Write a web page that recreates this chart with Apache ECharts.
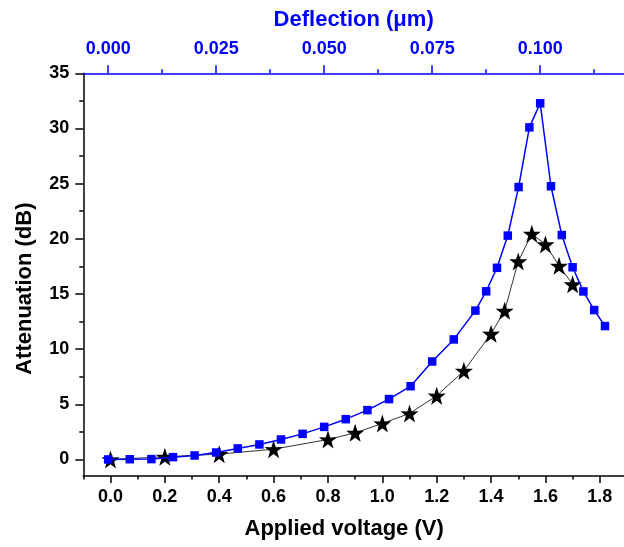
<!DOCTYPE html>
<html>
<head>
<meta charset="utf-8">
<script src="https://cdn.jsdelivr.net/npm/echarts@6/dist/echarts.min.js"></script>
<style>html,body{margin:0;padding:0;background:#fff}#c{width:624px;height:547px}</style>
</head>
<body>
<div id="c"></div>
<script>
// Blue squares: attenuation vs deflection (top axis)
const deflection = [0, 0.005, 0.01, 0.015, 0.02, 0.025, 0.03, 0.035, 0.04, 0.045, 0.05, 0.055, 0.06, 0.065, 0.07, 0.075, 0.08, 0.085,
  0.0875, 0.09, 0.0925, 0.095, 0.0975, 0.1, 0.1025, 0.105, 0.1075, 0.11, 0.1125, 0.115];
const attenDeflection = [0, 0.02, 0.03, 0.21, 0.36, 0.63, 1.0, 1.36, 1.81, 2.32, 2.95, 3.65, 4.47, 5.47, 6.64, 8.88, 10.88, 13.49,
  15.24, 17.37, 20.29, 24.69, 30.1, 32.28, 24.76, 20.34, 17.42, 15.23, 13.54, 12.09];
// Black stars: attenuation vs applied voltage (bottom axis)
const voltage = [0, 0.2, 0.4, 0.6, 0.8, 0.9, 1.0, 1.1, 1.2, 1.3, 1.4, 1.45, 1.5, 1.55, 1.6, 1.65, 1.7];
const attenVoltage = [0, 0.24, 0.48, 0.93, 1.81, 2.41, 3.26, 4.17, 5.77, 8.03, 11.39, 13.47, 17.95, 20.45, 19.49, 17.55, 15.87];
// Tick labels / tick positions
const voltageTicks = [0, 0.2, 0.4, 0.6, 0.8, 1.0, 1.2, 1.4, 1.6, 1.8];
const voltageMinorTicks = [-0.1, 0.1, 0.3, 0.5, 0.7, 0.9, 1.1, 1.3, 1.5, 1.7];
const deflectionTicks = [0, 0.025, 0.05, 0.075, 0.1];
const deflectionMinorTicks = [0.0125, 0.0375, 0.0625, 0.0875, 0.1125];
const attenTicks = [0, 5, 10, 15, 20, 25, 30, 35];
const attenMinorTicks = [2.5, 7.5, 12.5, 17.5, 22.5, 27.5, 32.5];

const FONT = 'Liberation Sans, Arial, sans-serif';
const BLUE = '#0000ff';
const vMin = -0.1, vMax = 1.889;
const dMin = -0.00576, dMax = 0.1194;
const yMin = -1.5, yMax = 35;

const chart = echarts.init(document.getElementById('c'), null, {renderer: 'canvas'});
const starPath = 'path://M50,0 L61.8,35.1 L97.6,34.5 L69.1,56.7 L79.4,91 L50,70 L20.6,91 L30.9,56.7 L2.4,34.5 L38.2,35.1 Z';

chart.setOption({
  animation: false,
  backgroundColor: '#ffffff',
  grid: {left: 83.3, top: 73.3, right: 0, bottom: 71, containLabel: false},
  xAxis: [
    { // bottom voltage, majors + labels
      type: 'value', position: 'bottom', min: vMin, max: vMax,
      name: 'Applied voltage (V)', nameLocation: 'middle', nameGap: 42,
      nameTextStyle: {fontFamily: FONT, fontWeight: 'bold', fontSize: 22, color: '#000', padding: [0, 19, 0, 0]},
      axisLine: {onZero: false, lineStyle: {color: '#000', width: 1.5}},
      axisTick: {customValues: voltageTicks, length: 7, lineStyle: {color: '#000', width: 1.5}},
      axisLabel: {customValues: voltageTicks, margin: 12, fontFamily: FONT, fontWeight: 'bold', fontSize: 18, color: '#000',
        formatter: v => v.toFixed(1)},
      splitLine: {show: false}
    },
    { // bottom voltage minor ticks
      type: 'value', position: 'bottom', min: vMin, max: vMax,
      axisLine: {show: false, onZero: false},
      axisTick: {customValues: voltageMinorTicks, length: 3.5, lineStyle: {color: '#000', width: 1.5}},
      axisLabel: {show: false}, splitLine: {show: false}
    },
    { // top deflection, majors + labels
      type: 'value', position: 'top', min: dMin, max: dMax,
      name: 'Deflection (\u03bcm)', nameLocation: 'middle', nameGap: 42,
      nameTextStyle: {fontFamily: FONT, fontWeight: 'bold', fontSize: 22, color: BLUE},
      axisLine: {onZero: false, lineStyle: {color: BLUE, width: 1.5}},
      axisTick: {customValues: deflectionTicks, length: 8, lineStyle: {color: BLUE, width: 1.5}},
      axisLabel: {customValues: deflectionTicks, margin: 15, fontFamily: FONT, fontWeight: 'bold', fontSize: 18, color: BLUE,
        formatter: v => v.toFixed(3)},
      splitLine: {show: false}
    },
    { // top deflection minor ticks
      type: 'value', position: 'top', min: dMin, max: dMax,
      axisLine: {show: false, onZero: false},
      axisTick: {customValues: deflectionMinorTicks, length: 4, lineStyle: {color: BLUE, width: 1.5}},
      axisLabel: {show: false}, splitLine: {show: false}
    }
  ],
  yAxis: [
    {
      type: 'value', position: 'left', min: yMin, max: yMax,
      name: 'Attenuation (dB)', nameLocation: 'middle', nameGap: 47, nameRotate: 90,
      nameTextStyle: {fontFamily: FONT, fontWeight: 'bold', fontSize: 22, color: '#000', padding: [0, 28, 0, 0]},
      axisLine: {onZero: false, lineStyle: {color: '#000', width: 1.5}},
      axisTick: {customValues: attenTicks, length: 8, lineStyle: {color: '#000', width: 1.5}},
      axisLabel: {customValues: attenTicks, margin: 14, fontFamily: FONT, fontWeight: 'bold', fontSize: 18, color: '#000'},
      splitLine: {show: false}
    },
    {
      type: 'value', position: 'left', min: yMin, max: yMax,
      axisLine: {show: false, onZero: false},
      axisTick: {customValues: attenMinorTicks, length: 4, lineStyle: {color: '#000', width: 1.5}},
      axisLabel: {show: false}, splitLine: {show: false}
    }
  ],
  series: [
    {
      type: 'line', xAxisIndex: 0, yAxisIndex: 0, z: 2,
      data: voltage.map((v, i) => [v, attenVoltage[i]]),
      symbol: starPath, symbolSize: 18,
      itemStyle: {color: '#000'},
      lineStyle: {color: '#333', width: 1}
    },
    {
      type: 'line', xAxisIndex: 2, yAxisIndex: 0, z: 3,
      data: deflection.map((d, i) => [d, attenDeflection[i]]),
      symbol: 'rect', symbolSize: 8.5,
      itemStyle: {color: BLUE},
      lineStyle: {color: BLUE, width: 1.5}
    }
  ]
});
</script>
</body>
</html>
